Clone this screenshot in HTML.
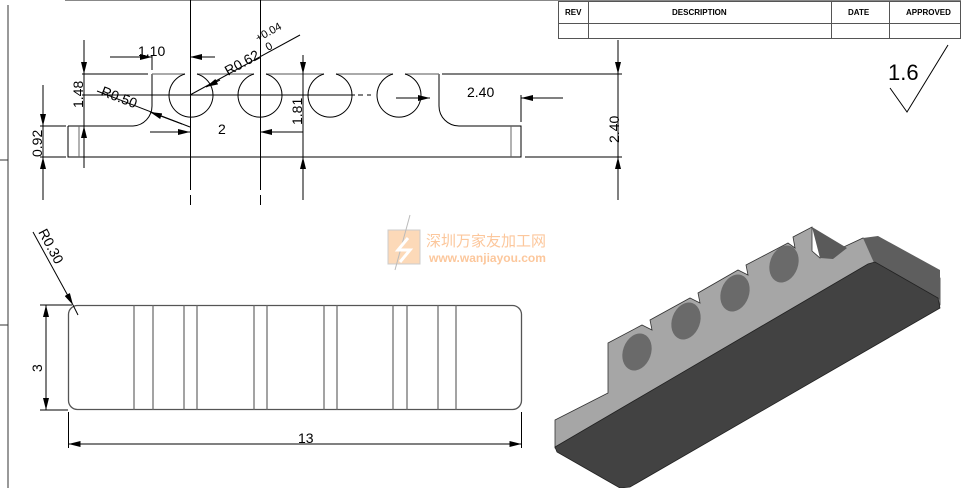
<!DOCTYPE html>
<html><head><meta charset="utf-8"><style>
html,body{margin:0;padding:0;background:#fff;}
svg{display:block;font-family:"Liberation Sans","Noto Sans CJK SC",sans-serif;}
</style></head><body>
<svg width="961" height="488" viewBox="0 0 961 488" xmlns="http://www.w3.org/2000/svg">
<defs>
<marker id="a" viewBox="0 0 12 6" refX="12" refY="3" markerWidth="12" markerHeight="6" orient="auto-start-reverse" markerUnits="userSpaceOnUse"><path d="M0,0 L12,3 L0,6Z" fill="#000"/></marker>
</defs>
<line x1="8" y1="5" x2="8" y2="488" stroke="#333" stroke-width="1"/>
<line x1="65" y1="0.5" x2="961" y2="0.5" stroke="#888" stroke-width="1"/>
<line x1="0" y1="160" x2="8" y2="160" stroke="#333"/>
<line x1="0" y1="325" x2="8" y2="325" stroke="#333"/>
<g stroke="#555" fill="none" stroke-width="1">
<rect x="558.5" y="1.5" width="402" height="37"/>
<line x1="558" y1="23.5" x2="961" y2="23.5"/>
<line x1="588.5" y1="1" x2="588.5" y2="38"/>
<line x1="831.5" y1="1" x2="831.5" y2="38"/>
<line x1="889.5" y1="1" x2="889.5" y2="38"/>
</g>
<g font-size="8" fill="#000" font-weight="bold">
<text x="565" y="15">REV</text><text x="672" y="15">DESCRIPTION</text><text x="848" y="15">DATE</text><text x="906" y="15">APPROVED</text>
</g>
<text x="888" y="80" font-size="22">1.6</text>
<path d="M890,88 L907,112 L948,45" stroke="#000" fill="none"/>
<g stroke="#000" fill="none" stroke-width="1">
<path d="M68,126 H133 A20,20 0 0 0 152,106 V74"/>
<path d="M439,74 V106 A20,20 0 0 0 459,126 H521 V157 H68 V126"/>
<path d="M152,74 H185 M197,74 H254 M266,74 H324 M336,74 H393 M405,74 H439" stroke="#777" stroke-width="1.3"/>
<path d="M185,74 A22,22 0 1 0 197,74 M254,74 A22,22 0 1 0 266,74 M324,74 A22,22 0 1 0 336,74 M393,74 A22,22 0 1 0 405,74"/>
<line x1="79" y1="126" x2="79" y2="157" stroke="#666"/>
<line x1="511" y1="126" x2="511" y2="157" stroke="#666"/>
<line x1="190.5" y1="0" x2="190.5" y2="190"/><line x1="190.5" y1="195" x2="190.5" y2="205"/>
<line x1="260.5" y1="0" x2="260.5" y2="190"/><line x1="260.5" y1="195" x2="260.5" y2="205"/>
<line x1="82" y1="95" x2="355" y2="95"/><line x1="358" y1="95" x2="363" y2="95"/><line x1="367" y1="95" x2="371" y2="95"/>
<line x1="82" y1="74" x2="148" y2="74"/><line x1="442" y1="74" x2="622" y2="74"/>
<line x1="40" y1="126" x2="66" y2="126"/><line x1="40" y1="157" x2="66" y2="157"/>
<line x1="525" y1="157" x2="622" y2="157"/>
<line x1="303" y1="55" x2="303" y2="200"/>
<line x1="84" y1="40" x2="84" y2="168"/>
<line x1="43" y1="85" x2="43" y2="200"/>
<line x1="618" y1="40" x2="618" y2="200"/>
<line x1="152" y1="55" x2="152" y2="70"/>
<line x1="521" y1="95" x2="521" y2="122"/>
</g>
<g stroke="#000" stroke-width="1" fill="none">
<line x1="110" y1="57" x2="152" y2="57" marker-end="url(#a)"/><line x1="215" y1="57" x2="190" y2="57" marker-end="url(#a)"/>
<line x1="300" y1="35" x2="190" y2="95"/><line x1="220" y1="80" x2="206" y2="87" marker-end="url(#a)"/>
<line x1="97" y1="91" x2="190" y2="127"/><line x1="182" y1="124" x2="150" y2="112" marker-end="url(#a)"/>
<line x1="150" y1="132" x2="190" y2="132" marker-end="url(#a)"/><line x1="303" y1="132" x2="260" y2="132" marker-end="url(#a)"/>
<line x1="84" y1="45" x2="84" y2="74" marker-end="url(#a)"/><line x1="84" y1="168" x2="84" y2="126" marker-end="url(#a)"/>
<line x1="43" y1="95" x2="43" y2="126" marker-end="url(#a)"/><line x1="43" y1="196" x2="43" y2="157" marker-end="url(#a)"/>
<line x1="303" y1="55" x2="303" y2="74" marker-end="url(#a)"/><line x1="303" y1="198" x2="303" y2="157" marker-end="url(#a)"/>
<line x1="618" y1="40" x2="618" y2="74" marker-end="url(#a)"/><line x1="618" y1="198" x2="618" y2="157" marker-end="url(#a)"/>
<line x1="396" y1="98" x2="430" y2="98" marker-end="url(#a)"/><line x1="563" y1="98" x2="521" y2="98" marker-end="url(#a)"/>
</g>
<g font-size="14" fill="#000">
<text x="138" y="56">1.10</text>
<text x="228" y="76" transform="rotate(-29 228 76)">R0.62</text>
<text x="258" y="42" font-size="11" transform="rotate(-29 258 42)">+0.04</text>
<text x="268" y="51" font-size="11" transform="rotate(-29 268 51)">0</text>
<text x="100" y="95" transform="rotate(21 100 95)">R0.50</text>
<text x="218" y="134">2</text>
<text x="467" y="97">2.40</text>
<text x="83" y="108" transform="rotate(-90 83 108)">1.48</text>
<text x="42" y="157" transform="rotate(-90 42 157)">0.92</text>
<text x="302" y="125" transform="rotate(-90 302 125)">1.81</text>
<text x="619" y="143" transform="rotate(-90 619 143)">2.40</text>
</g>
<rect x="68.5" y="305.5" width="453" height="104" rx="9" stroke="#555" fill="none" stroke-width="1.3"/>
<g stroke="#666" stroke-width="1.2">
<line x1="134" y1="305" x2="134" y2="410"/><line x1="153" y1="305" x2="153" y2="410"/>
<line x1="184" y1="305" x2="184" y2="410"/><line x1="197" y1="305" x2="197" y2="410"/>
<line x1="254" y1="305" x2="254" y2="410"/><line x1="267" y1="305" x2="267" y2="410"/>
<line x1="324" y1="305" x2="324" y2="410"/><line x1="337" y1="305" x2="337" y2="410"/>
<line x1="393" y1="305" x2="393" y2="410"/><line x1="407" y1="305" x2="407" y2="410"/>
<line x1="438" y1="305" x2="438" y2="410"/><line x1="456" y1="305" x2="456" y2="410"/>
</g>
<g stroke="#000" fill="none">
<line x1="40" y1="305" x2="72" y2="305"/><line x1="40" y1="410" x2="68" y2="410"/>
<line x1="46" y1="330" x2="46" y2="305" marker-end="url(#a)"/><line x1="46" y1="385" x2="46" y2="410" marker-end="url(#a)"/>
<line x1="46" y1="330" x2="46" y2="385"/>
<line x1="68.5" y1="412" x2="68.5" y2="448"/><line x1="521.5" y1="412" x2="521.5" y2="448"/>
<line x1="300" y1="444" x2="68.5" y2="444" marker-end="url(#a)"/><line x1="300" y1="444" x2="521.5" y2="444" marker-end="url(#a)"/>
<line x1="33" y1="232" x2="73" y2="305" marker-end="url(#a)"/><line x1="73" y1="305" x2="78" y2="315"/>
</g>
<g font-size="14" fill="#000">
<text x="298" y="443">13</text>
<text x="42" y="372" transform="rotate(-90 42 372)">3</text>
<text x="38" y="232" transform="rotate(62 38 232)">R0.30</text>
</g>
<rect x="388" y="230" width="32" height="34" fill="#fcd9b8" stroke="#ccc"/>
<path d="M410,215 L395,270" stroke="#bbb"/>
<path d="M408,238 L398,250 L410,250 L400,262" stroke="#fff" stroke-width="3" fill="none"/>
<text x="426" y="246" font-size="15" fill="#fcc79c">深圳万家友加工网</text>
<text x="429" y="262" font-size="12" font-weight="bold" fill="#fcc79c">www.wanjiayou.com</text>
<polygon points="555,420 608,393 608,343 642,325 652,330 650,320 690,298 700,303 698,293 738,270 748,275 746,265 788,243 795,248 793,237 812,227 812,251 820,258 863,238 940,278 940,305 623,487 555,448" fill="#a6a6a6" stroke="#333" stroke-width="0.8"/>
<polygon points="812,227 847,248 833,259 820,258" fill="#5a5a5a"/>
<polygon points="863,238 878,236 940,270 940,300 875,265" fill="#5e5e5e"/>
<polygon points="555,447 868,264 875,262 938,298 940,308 630,487 620,488 557,452" fill="#424242" stroke="#222" stroke-width="0.8"/>
<ellipse cx="637" cy="352" rx="14" ry="19" fill="#6a6a6a" transform="rotate(20 637 352)"/>
<ellipse cx="686" cy="321" rx="14" ry="19" fill="#6a6a6a" transform="rotate(20 686 321)"/>
<ellipse cx="735" cy="293" rx="14" ry="19" fill="#6a6a6a" transform="rotate(20 735 293)"/>
<ellipse cx="784" cy="264" rx="14" ry="19" fill="#6a6a6a" transform="rotate(20 784 264)"/>
</svg>
</body></html>
